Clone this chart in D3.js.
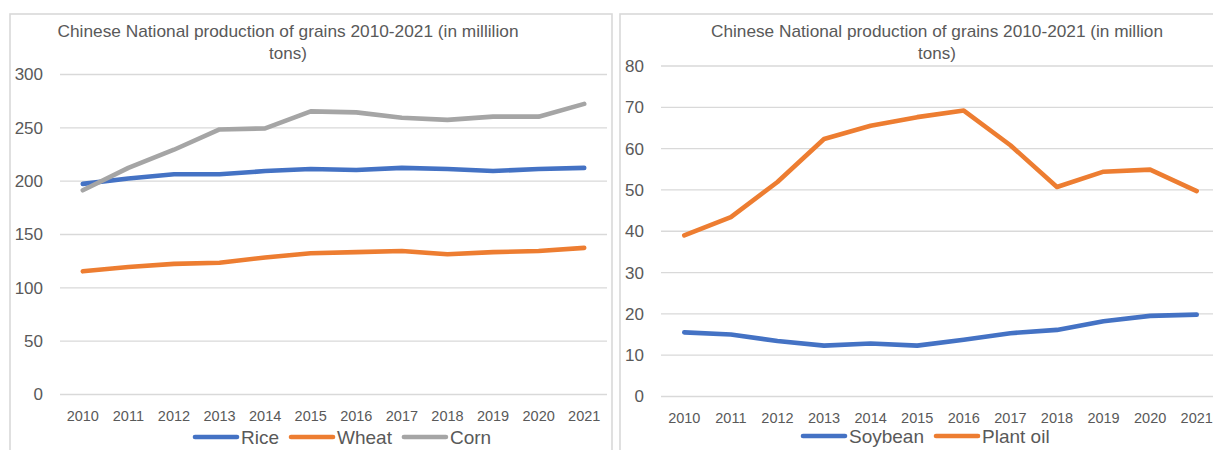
<!DOCTYPE html>
<html>
<head>
<meta charset="utf-8">
<script src="https://cdn.jsdelivr.net/npm/d3@7"></script>
<style>
  html, body { margin: 0; padding: 0; background: #fff; }
  svg { display: block; font-family: "Liberation Sans", Arial, sans-serif; }
</style>
</head>
<body>
<svg id="chart" width="1213" height="450"></svg>
<script>
// ---- Data ----
const years = ["2010","2011","2012","2013","2014","2015","2016","2017","2018","2019","2020","2021"];

const rice  = [197, 202, 206, 206, 209, 211, 210, 212, 211, 209, 211, 212];
const wheat = [115, 119, 122, 123, 128, 132, 133, 134, 131, 133, 134, 137];
const corn  = [191, 212, 229, 248, 249, 265, 264, 259, 257, 260, 260, 272];

const soybean  = [15.4, 14.9, 13.3, 12.2, 12.7, 12.2, 13.6, 15.2, 16.0, 18.1, 19.4, 19.7];
const plantOil = [38.9, 43.3, 51.8, 62.2, 65.4, 67.5, 69.1, 60.7, 50.6, 54.3, 54.8, 49.6];

const leftTicks  = [0, 50, 100, 150, 200, 250, 300];
const rightTicks = [0, 10, 20, 30, 40, 50, 60, 70, 80];

const leftTitle  = ["Chinese National production of grains 2010-2021 (in millilion", "tons)"];
const rightTitle = ["Chinese National production of grains 2010-2021 (in million", "tons)"];

const leftSeries = [
  { name: "Rice",  values: rice,  color: "#4472C4" },
  { name: "Wheat", values: wheat, color: "#ED7D31" },
  { name: "Corn",  values: corn,  color: "#A5A5A5" }
];
const rightSeries = [
  { name: "Soybean",   values: soybean,  color: "#4472C4" },
  { name: "Plant oil", values: plantOil, color: "#ED7D31" }
];

// ---- Drawing ----
const svg = d3.select("#chart");
const textColor = "#595959";
const gridColor = "#D9D9D9";

function panel(cfg) {
  const g = svg.append("g");
  // border
  g.append("rect")
    .attr("x", cfg.box[0]).attr("y", cfg.box[1])
    .attr("width", cfg.box[2]).attr("height", cfg.box[3])
    .attr("fill", "#fff").attr("stroke", gridColor).attr("stroke-width", 1.6);

  const x = d3.scaleBand().domain(years).range(cfg.xRange).paddingInner(0).paddingOuter(0);
  const y = d3.scaleLinear().domain(cfg.yDomain).range(cfg.yRange);
  const cx = d => x(d) + x.bandwidth() / 2;

  // y axis (gridlines + labels)
  const yAxis = d3.axisLeft(y).tickValues(cfg.ticks)
    .tickSize(-(cfg.xRange[1] - cfg.xRange[0])).tickPadding(17);
  const ya = g.append("g").attr("transform", `translate(${cfg.xRange[0]},0)`).call(yAxis);
  ya.select(".domain").remove();
  ya.selectAll(".tick line").attr("stroke", gridColor).attr("stroke-width", 1.3);
  ya.selectAll(".tick text").attr("fill", textColor)
    .style("font-size", "17px").attr("dy", "0.35em");

  // x axis labels
  const xAxis = d3.axisBottom(x).tickSize(0).tickPadding(0);
  const xa = g.append("g").attr("transform", `translate(0,${cfg.xLabelY})`).call(xAxis);
  xa.select(".domain").remove();
  xa.selectAll(".tick text").attr("fill", textColor)
    .style("font-size", "14.5px").attr("dy", "0.35em").attr("y", 0);

  // lines
  const line = d3.line().x((d, i) => cx(years[i])).y(d => y(d));
  cfg.series.forEach(s => {
    g.append("path").datum(s.values)
      .attr("d", line)
      .attr("fill", "none").attr("stroke", s.color)
      .attr("stroke-width", 4.6)
      .attr("stroke-linejoin", "round").attr("stroke-linecap", "round");
  });

  // title
  cfg.title.forEach((t, i) => {
    const tx = g.append("text")
      .attr("x", cfg.titleX).attr("y", cfg.titleY[i])
      .attr("text-anchor", "middle").attr("dy", "0.35em")
      .attr("fill", textColor).style("font-size", "17px")
      .text(t);
    if (cfg.titleLen[i]) {
      tx.attr("textLength", cfg.titleLen[i]).attr("lengthAdjust", "spacingAndGlyphs");
    }
  });

  // legend
  let lx = cfg.legendX;
  const ly = cfg.legendY;
  cfg.series.forEach(s => {
    g.append("line")
      .attr("x1", lx + 2).attr("x2", lx + 44).attr("y1", ly).attr("y2", ly)
      .attr("stroke", s.color).attr("stroke-width", 4.6).attr("stroke-linecap", "round");
    const t = g.append("text")
      .attr("x", lx + 48).attr("y", ly).attr("dy", "0.35em")
      .attr("fill", textColor).style("font-size", "19px")
      .text(s.name);
    lx += 48 + t.node().getComputedTextLength() + 10;
  });
}

panel({
  box: [10, 14, 602, 460],
  xRange: [60, 607],
  yDomain: [0, 300], yRange: [394, 74],
  ticks: leftTicks,
  xLabelY: 416,
  series: leftSeries,
  title: leftTitle, titleX: 288, titleY: [31, 53], titleLen: [461, 0],
  legendX: 193, legendY: 437
});

panel({
  box: [620, 14, 610, 460],
  xRange: [661, 1220],
  yDomain: [0, 80], yRange: [396, 65.5],
  ticks: rightTicks,
  xLabelY: 418,
  series: rightSeries,
  title: rightTitle, titleX: 937, titleY: [31, 53], titleLen: [452, 0],
  legendX: 801, legendY: 436
});
</script>
</body>
</html>
